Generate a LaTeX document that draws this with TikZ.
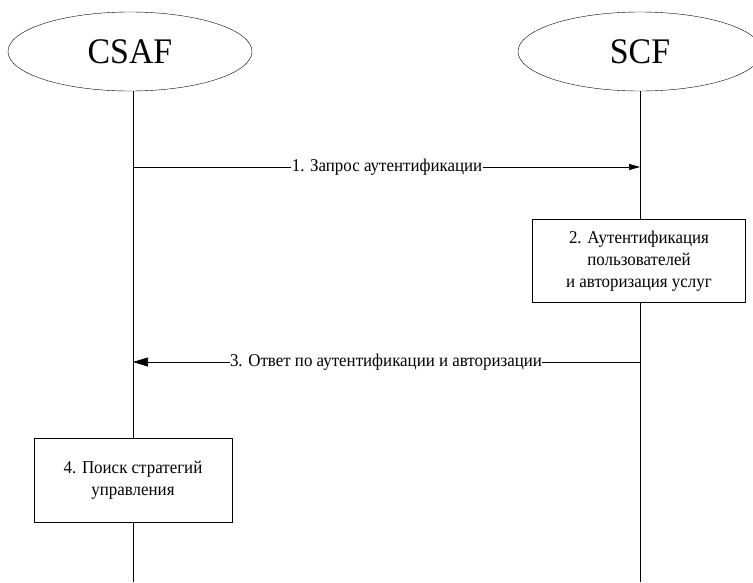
\documentclass[tikz,border=0pt]{standalone}
\usepackage{fontspec}
\setmainfont[FakeStretch=0.94]{Liberation Serif}
\usetikzlibrary{arrows.meta,shapes.geometric}
\begin{document}
\begin{tikzpicture}[x=1pt,y=-1pt,
  actor/.style={draw,ellipse,minimum width=244pt,minimum height=79pt,font=\fontsize{36}{38}\selectfont,inner sep=0pt},
  lifeline/.style={draw,line width=0.9pt},
  msg/.style={draw,line width=0.6pt},
  msglabel/.style={fill=white,inner sep=0.5pt,font=\fontsize{18}{21}\selectfont},
  actbox/.style={draw,fill=white,align=center,font=\fontsize{18}{22}\selectfont,inner sep=0pt},
]
\useasboundingbox (0,0) rectangle (753,582);
\begin{scope}
\clip (0,0) rectangle (753,582);
\node[actor] (csaf) at (130,51.5) {CSAF};
\node[actor] (scf) at (640,51.5) {SCF};
\coordinate (csafend) at (133,582);
\coordinate (scfend) at (640,582);
\draw[lifeline] (csaf.south -| csafend) -- (csafend);
\draw[lifeline] (scf.south) -- (scfend);

% step 1: request from CSAF to SCF
\coordinate (m1s) at (133,167);
\coordinate (m1e) at (640,167);
\draw[msg,-{Triangle[length=11pt,width=6pt]}] (m1s) -- (m1e);
\node[msglabel] (l1) at (387,167) {1. Запрос аутентификации};

% step 2: processing box on SCF
\node[actbox,minimum width=213pt,minimum height=83pt] (b2) at (639,261)
  {2. Аутентификация\\пользователей\\и авторизация услуг};

% step 3: response from SCF to CSAF
\coordinate (m3s) at (640,362);
\coordinate (m3e) at (133,362);
\draw[msg,-{Triangle[length=15pt,width=9pt]}] (m3s) -- (m3e);
\node[msglabel] (l3) at (386,362) {3. Ответ по аутентификации и авторизации};

% step 4: processing box on CSAF
\node[actbox,minimum width=198pt,minimum height=84pt] (b4) at (133,480)
  {4. Поиск стратегий\\управления};
\end{scope}
\end{tikzpicture}
\end{document}
